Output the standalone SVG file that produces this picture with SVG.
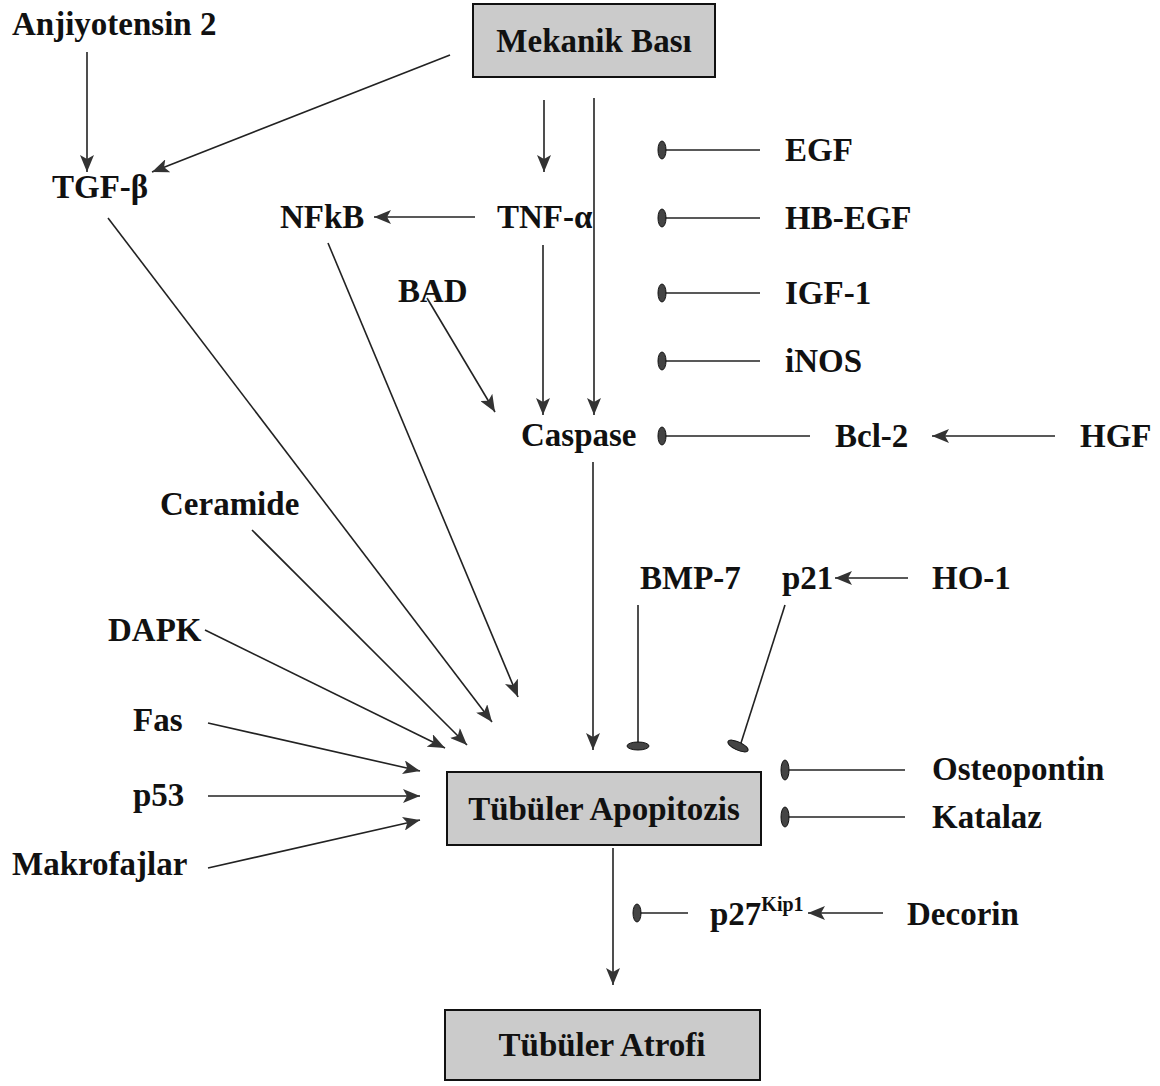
<svg xmlns="http://www.w3.org/2000/svg" width="1160" height="1086" viewBox="0 0 1160 1086">
<defs>
<style>
.t{font-family:"Liberation Serif","Times New Roman",serif;font-weight:bold;font-size:33px;fill:#111}
.sup{font-size:20px}
.box{fill:#cbcbcb;stroke:#111;stroke-width:2}
.e{stroke:#222;stroke-width:1.6;fill:none}
.a{marker-end:url(#arr)}
.inh{fill:#444;stroke:#111;stroke-width:1}
</style>
<marker id="arr" markerUnits="userSpaceOnUse" markerWidth="18" markerHeight="14" refX="17" refY="7" orient="auto">
<path d="M0,0 L17,7 L0,14 L4,7 z" fill="#333"/>
</marker>
</defs>
<rect width="1160" height="1086" fill="#fff"/>

<g id="connectors">
<line class="e a" x1="87" y1="52" x2="87" y2="172"/>
<line class="e a" x1="450" y1="55" x2="152" y2="172"/>
<line class="e a" x1="544" y1="100" x2="544" y2="172"/>
<line class="e a" x1="594" y1="98" x2="594" y2="415"/>
<line class="e a" x1="475" y1="217" x2="374" y2="217"/>
<line class="e a" x1="543" y1="245" x2="543" y2="415"/>
<line class="e a" x1="427" y1="298" x2="495" y2="412"/>
<line class="e a" x1="593" y1="462" x2="593" y2="750"/>
<line class="e a" x1="108" y1="218" x2="492" y2="722"/>
<line class="e a" x1="328" y1="243" x2="518" y2="697"/>
<line class="e a" x1="252" y1="530" x2="467" y2="745"/>
<line class="e a" x1="205" y1="630" x2="445" y2="748"/>
<line class="e a" x1="208" y1="723" x2="420" y2="771"/>
<line class="e a" x1="208" y1="796" x2="420" y2="796"/>
<line class="e a" x1="208" y1="868" x2="420" y2="820"/>
<line class="e" x1="665" y1="150" x2="760" y2="150"/>
<line class="e" x1="665" y1="218" x2="760" y2="218"/>
<line class="e" x1="665" y1="293" x2="760" y2="293"/>
<line class="e" x1="665" y1="361" x2="760" y2="361"/>
<line class="e" x1="665" y1="436" x2="810" y2="436"/>
<line class="e a" x1="1055" y1="436" x2="932" y2="436"/>
<line class="e" x1="638" y1="605" x2="638" y2="745"/>
<line class="e" x1="785" y1="605" x2="741" y2="743"/>
<line class="e a" x1="908" y1="578" x2="835" y2="578"/>
<line class="e" x1="788" y1="770" x2="905" y2="770"/>
<line class="e" x1="788" y1="817" x2="905" y2="817"/>
<line class="e a" x1="613" y1="848" x2="613" y2="985"/>
<line class="e" x1="640" y1="913" x2="688" y2="913"/>
<line class="e a" x1="883" y1="913" x2="808" y2="913"/>
<ellipse class="inh" cx="662" cy="150" rx="4" ry="9"/>
<ellipse class="inh" cx="662" cy="218" rx="4" ry="9"/>
<ellipse class="inh" cx="662" cy="293" rx="4" ry="9"/>
<ellipse class="inh" cx="662" cy="361" rx="4" ry="9"/>
<ellipse class="inh" cx="662" cy="436" rx="4" ry="9"/>
<ellipse class="inh" cx="638" cy="746" rx="11" ry="4"/>
<ellipse class="inh" cx="738" cy="746" rx="11" ry="4" transform="rotate(25 738 746)"/>
<ellipse class="inh" cx="785" cy="770" rx="4" ry="10"/>
<ellipse class="inh" cx="785" cy="817" rx="4" ry="10"/>
<ellipse class="inh" cx="637" cy="913" rx="4" ry="9"/>
</g>

<g id="mekanik"><rect class="box" x="473" y="4" width="242" height="73"/><text class="t" x="594" y="52" text-anchor="middle">Mekanik Bası</text></g>
<g id="anjiyotensin"><text class="t" x="12" y="35">Anjiyotensin 2</text></g>
<g id="tgf"><text class="t" x="52" y="198">TGF-β</text></g>
<g id="nfkb"><text class="t" x="280" y="228">NFkB</text></g>
<g id="tnf"><text class="t" x="497" y="228">TNF-α</text></g>
<g id="bad"><text class="t" x="398" y="302">BAD</text></g>
<g id="caspase"><text class="t" x="521" y="446">Caspase</text></g>
<g id="egf"><text class="t" x="785" y="161">EGF</text></g>
<g id="hbegf"><text class="t" x="785" y="229">HB-EGF</text></g>
<g id="igf1"><text class="t" x="785" y="304">IGF-1</text></g>
<g id="inos"><text class="t" x="785" y="372">iNOS</text></g>
<g id="bcl2"><text class="t" x="835" y="447">Bcl-2</text></g>
<g id="hgf"><text class="t" x="1080" y="447">HGF</text></g>
<g id="ceramide"><text class="t" x="160" y="515">Ceramide</text></g>
<g id="bmp7"><text class="t" x="640" y="589">BMP-7</text></g>
<g id="p21"><text class="t" x="782" y="589">p21</text></g>
<g id="ho1"><text class="t" x="932" y="589">HO-1</text></g>
<g id="dapk"><text class="t" x="108" y="641">DAPK</text></g>
<g id="fas"><text class="t" x="133" y="731">Fas</text></g>
<g id="p53"><text class="t" x="133" y="806">p53</text></g>
<g id="makrofajlar"><text class="t" x="12" y="875">Makrofajlar</text></g>
<g id="osteopontin"><text class="t" x="932" y="780">Osteopontin</text></g>
<g id="katalaz"><text class="t" x="932" y="828">Katalaz</text></g>
<g id="apoptozis"><rect class="box" x="447" y="772" width="314" height="73"/><text class="t" x="604" y="820" text-anchor="middle">Tübüler Apopitozis</text></g>
<g id="p27"><text class="t" x="710" y="925">p27<tspan class="sup" dy="-14">Kip1</tspan></text></g>
<g id="decorin"><text class="t" x="907" y="925">Decorin</text></g>
<g id="atrofi"><rect class="box" x="445" y="1010" width="315" height="70"/><text class="t" x="602" y="1056" text-anchor="middle">Tübüler Atrofi</text></g>
</svg>
